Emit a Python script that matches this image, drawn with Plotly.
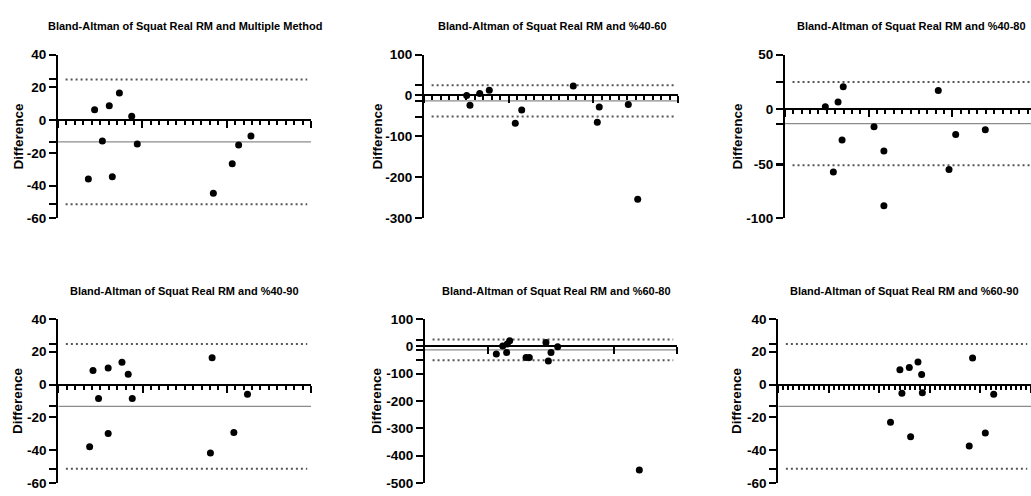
import plotly.graph_objects as go

W, H = 1031, 496

titles = [
    "Bland-Altman of Squat Real RM and Multiple Method",
    "Bland-Altman of Squat Real RM and %40-60",
    "Bland-Altman of Squat Real RM and %40-80",
    "Bland-Altman of Squat Real RM and %40-90",
    "Bland-Altman of Squat Real RM and %60-80",
    "Bland-Altman of Squat Real RM and %60-90",
]

# Average (x) and Difference (y) per panel
p1_x = [118.0, 121.7, 126.3, 130.4, 132.2, 136.4, 143.7, 147.0, 192.1, 203.3, 207.1, 214.4]
p1_y = [-35.9, 6.3, -12.7, 8.8, -34.6, 16.5, 2.3, -14.6, -44.6, -26.7, -15.2, -9.7]

p2_x = [50.4, 54.3, 65.8, 77.1, 107.8, 115.4, 176.3, 204.7, 207.0, 241.3, 252.4]
p2_y = [0.0, -23.7, 4.7, 12.6, -67.8, -35.4, 23.0, -65.4, -28.3, -22.0, -253.0]

p3_x = [74.1, 78.9, 81.7, 84.1, 84.8, 103.2, 109.1, 109.1, 141.6, 148.0, 152.0, 169.7]
p3_y = [2.1, -57.6, 6.6, -28.2, 20.6, -16.2, -38.2, -88.4, 17.0, -55.2, -23.1, -18.9]

p4_x = [118.6, 120.6, 123.9, 129.6, 129.6, 137.8, 141.5, 143.9, 190.3, 191.3, 204.2, 212.3]
p4_y = [-38.0, 8.5, -8.6, -29.9, 10.1, 13.6, 6.3, -8.5, -41.8, 16.4, -29.2, -5.9]

p5_x = [106.6, 111.7, 114.8, 115.3, 117.2, 130.2, 132.8, 146.0, 147.9, 150.0, 155.3, 220.1]
p5_y = [-28.5, 1.4, -22.5, 8.5, 20.3, -41.5, -41.5, 14.3, -53.5, -22.5, -2.1, -452.6]

p6_x = [111.0, 120.3, 122.3, 129.6, 130.9, 138.2, 141.8, 142.5, 188.9, 192.2, 204.8, 213.1]
p6_y = [-23.0, 9.0, -5.3, 10.4, -31.8, 13.7, 6.1, -5.0, -37.5, 16.2, -29.6, -6.0]

xs = [p1_x, p2_x, p3_x, p4_x, p5_x, p6_x]
ys = [p1_y, p2_y, p3_y, p4_y, p5_y, p6_y]

# Bland-Altman limits (bias and 95% limits of agreement)
upper_loa = 24.8
bias = -13.3
lower_loa = -51.4

# y-axis ranges / tick labels
y_ranges = [(-60, 40), (-300, 100), (-100, 50), (-60, 40), (-500, 100), (-60, 40)]
y_ticks = [
    [-60, -40, -20, 0, 20, 40],
    [-300, -200, -100, 0, 100],
    [-100, -50, 0, 50],
    [-60, -40, -20, 0, 20, 40],
    [-500, -400, -300, -200, -100, 0, 100],
    [-60, -40, -20, 0, 20, 40],
]
# x-axis (no labels): full axis extent, shown range end, major / minor step
x_full = [(100, 250), (0, 300), (50, 200), (100, 250), (50, 250), (0, 250)]
x_shown_end = [250, 300, 197, 250, 250, 250]
x_major = [50, 100, 50, 50, 100, 50]
x_minor = [5, 10, 5, 5, None, 5]
x_tickvals_special = {4: [100, 200, 250]}

# layout geometry in pixels
dom_px = [(58, 311), (424, 678), (785, 1031), (58.3, 311), (425, 677), (778.3, 1031)]
row_px = [(49, 218), (49, 218), (49, 218), (321.7, 490.7), (321.7, 490.7), (321.7, 490.7)]
title_cx = [184.5, 552, 911, 184.5, 556, 904]
title_cy = [20, 20, 20, 292.7, 292.7, 292.7]
ytitle_cx = [18, 377, 737, 18, 377, 737]

FONT = "Arial, Liberation Sans, sans-serif"
fig = go.Figure()
layout = dict(
    width=W, height=H, margin=dict(l=0, r=0, t=0, b=0),
    paper_bgcolor="white", plot_bgcolor="white", showlegend=False,
    font=dict(family=FONT, color="black"),
)
shapes = []
annotations = []

for i in range(6):
    n = i + 1
    sfx = "" if n == 1 else str(n)
    xd = [dom_px[i][0] / W, dom_px[i][1] / W]
    yd = [1 - row_px[i][1] / H, 1 - row_px[i][0] / H]
    ylo, yhi = y_ranges[i]
    pos0 = yd[0] + (0 - ylo) / (yhi - ylo) * (yd[1] - yd[0])

    fig.add_trace(go.Scatter(
        x=xs[i], y=ys[i], mode="markers",
        marker=dict(color="black", size=7),
        xaxis="x" + sfx, yaxis="y" + sfx, cliponaxis=False,
    ))

    xa = dict(
        domain=xd, range=[x_full[i][0], x_shown_end[i]], anchor="free", position=pos0,
        showline=True, linecolor="black", linewidth=2, showgrid=False, zeroline=False,
        showticklabels=False, ticks="outside", ticklen=7, tickwidth=2, tickcolor="black",
    )
    if i in x_tickvals_special:
        xa.update(tickmode="array", tickvals=x_tickvals_special[i])
    else:
        xa.update(tick0=x_full[i][0], dtick=x_major[i],
                  minor=dict(dtick=x_minor[i], ticks="outside", ticklen=4,
                             tickwidth=1.5, tickcolor="black", showgrid=False))
    layout["xaxis" + sfx] = xa

    tv = y_ticks[i] + [upper_loa, bias, lower_loa]
    tt = [str(v) for v in y_ticks[i]] + ["", "", ""]
    layout["yaxis" + sfx] = dict(
        domain=yd, range=[ylo, yhi], anchor="x" + sfx,
        showline=True, linecolor="black", linewidth=2, showgrid=False, zeroline=False,
        ticks="outside", ticklen=7, tickwidth=2, tickcolor="black",
        tickmode="array", tickvals=tv, ticktext=tt,
        tickfont=dict(family=FONT, size=13.5, color="black", weight="bold"),
    )

    lo, hi = x_full[i]
    span = hi - lo
    for yv in (upper_loa, lower_loa):
        shapes.append(dict(type="line", xref="x" + sfx, yref="y" + sfx,
                           x0=lo + 0.03 * span, x1=lo + 0.985 * span, y0=yv, y1=yv,
                           line=dict(color="#555555", width=2, dash="2px,3px"), layer="below"))
    shapes.append(dict(type="line", xref="x" + sfx, yref="y" + sfx,
                       x0=lo, x1=hi, y0=bias, y1=bias,
                       line=dict(color="#8c8c8c", width=1.2), layer="below"))

    annotations.append(dict(
        text="<b>" + titles[i] + "</b>", x=title_cx[i] / W, y=1 - title_cy[i] / H,
        xref="paper", yref="paper", xanchor="center", yanchor="middle",
        showarrow=False, font=dict(family=FONT, size=11, color="black"),
    ))
    annotations.append(dict(
        text="<b>Difference</b>", x=ytitle_cx[i] / W,
        y=(yd[0] + yd[1]) / 2, xref="paper", yref="paper",
        xanchor="center", yanchor="middle", textangle=-90,
        showarrow=False, font=dict(family=FONT, size=13.5, color="black"),
    ))

layout["shapes"] = shapes
layout["annotations"] = annotations
fig.update_layout(**layout)
fig.write_html("out.html", config={"displayModeBar": False},
               post_script="document.body.style.margin='0';document.body.style.overflow='hidden';")
